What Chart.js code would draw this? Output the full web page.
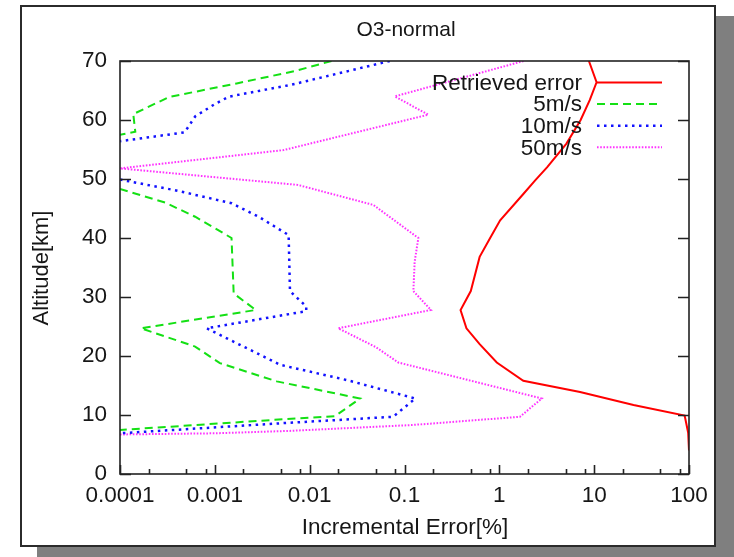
<!DOCTYPE html>
<html><head><meta charset="utf-8">
<script src="https://cdn.jsdelivr.net/npm/chart.js@4.4.1/dist/chart.umd.min.js"></script>
<style>html,body{margin:0;padding:0;background:#fff;overflow:hidden}#wrap{width:734px;height:557px;position:relative}</style>
</head><body><div id="wrap"><canvas id="c" width="734" height="557"></canvas></div>
<script>
// ---- tick definitions ----
const xTickValues = [0.0001, 0.001, 0.01, 0.1, 1, 10, 100];
const xTickLabels = ['0.0001', '0.001', '0.01', '0.1', '1', '10', '100'];
const xMinorFactors = [2, 5, 8];
const yTickValues = [0, 10, 20, 30, 40, 50, 60, 70];

// ---- series (altitude km, incremental error %); null = gap (values below 0.0001) ----
const retrievedAlt = [70, 66.4, 63.4, 60, 56, 52, 49.8, 47.5, 43, 40, 36.8, 31, 27.8, 24.7, 22, 18.9, 15.8, 13.9, 11.7, 9.9, 7, 4];
const retrievedErr = [8.8, 10.6, 9.0, 7.2, 5.1, 3.2, 2.4, 1.8, 1.02, 0.8, 0.62, 0.5, 0.39, 0.45, 0.62, 0.94, 1.79, 7.1, 26, 90, 98, 100];

const wind5Alt = [70, 68.3, 66.2, 63.9, 61, 58, 57.5, null, 48.3, 46, 43.6, 40, 30.6, 27.8, 24.7, 21.6, 18.8, 15.7, 12.8, 9.8, 9.3, 7.46];
const wind5Err = [0.017, 0.007, 0.0017, 0.00033, 0.000138, 0.000145, 0.0001, null, 0.0001, 0.0003, 0.00062, 0.0015, 0.00158, 0.0027, 0.000166, 0.00062, 0.00113, 0.0045, 0.034, 0.0185, 0.0055, 0.0001];

const wind10Alt = [70, 66, 63.95, 62.7, 60.6, 57.9, 56.4, null, 49.9, 48.1, 45.9, 43.6, 40.5, 31, 28.4, 27.6, 24.7, 18.5, 15.9, 12.8, 9.7, 8.6, 6.9];
const wind10Err = [0.07, 0.0065, 0.0014, 0.001, 0.00062, 0.00048, 0.0001, null, 0.0001, 0.00038, 0.0015, 0.0029, 0.006, 0.0062, 0.0092, 0.0092, 0.00082, 0.0049, 0.025, 0.13, 0.076, 0.005, 0.0001];

const wind50Alt = [70, 64, 60.9, 54.9, 51.8, 49, 45.6, 40, 36, 31, 27.8, 24.7, 21.5, 18.9, 12.8, 9.7, 8.3, 7.3, 6.9, 6.7];
const wind50Err = [1.8, 0.079, 0.178, 0.0053, 0.0001, 0.0075, 0.047, 0.14, 0.128, 0.124, 0.19, 0.02, 0.05, 0.086, 2.8, 1.65, 0.12, 0.006, 0.001, 0.0001];

const seriesNames = ['Retrieved error', '5m/s', '10m/s', '50m/s'];

function pts(alt, err) {
  return alt.map((a, i) => (a === null ? {x: null, y: null} : {x: err[i], y: a}));
}

const FONT = "'Liberation Sans', Arial, sans-serif";
const TXT = '#161616';

const framePlugin = {
  id: 'frame',
  beforeDraw(chart) {
    const ctx = chart.ctx;
    ctx.save();
    ctx.fillStyle = '#ffffff';
    ctx.fillRect(0, 0, 734, 557);
    ctx.fillStyle = '#7f7f7f';
    ctx.fillRect(37, 16, 697, 541);
    ctx.fillStyle = '#ffffff';
    ctx.fillRect(21, 6, 694, 540);
    ctx.strokeStyle = '#2b2b2b';
    ctx.lineWidth = 2;
    ctx.strokeRect(21, 6, 694, 540);
    ctx.restore();
  },
  afterDraw(chart) {
    const ctx = chart.ctx;
    const a = chart.chartArea;
    const xs = chart.scales.x, ys = chart.scales.y;
    ctx.save();
    // plot border
    ctx.strokeStyle = '#222';
    ctx.lineWidth = 1.6;
    ctx.strokeRect(a.left, a.top, a.right - a.left, a.bottom - a.top);
    // y ticks (inward, left and right)
    ctx.beginPath();
    yTickValues.forEach(v => {
      const py = Math.round(ys.getPixelForValue(v)) + 0.5;
      ctx.moveTo(a.left, py); ctx.lineTo(a.left + 11, py);
      ctx.moveTo(a.right, py); ctx.lineTo(a.right - 11, py);
    });
    // x major ticks
    xTickValues.forEach(v => {
      const px = Math.round(xs.getPixelForValue(v)) + 0.5;
      ctx.moveTo(px, a.bottom); ctx.lineTo(px, a.bottom - 9);
    });
    // x minor ticks
    xTickValues.slice(0, -1).forEach(v => {
      xMinorFactors.forEach(f => {
        const px = Math.round(xs.getPixelForValue(v * f)) + 0.5;
        ctx.moveTo(px, a.bottom); ctx.lineTo(px, a.bottom - 5);
      });
    });
    ctx.stroke();

    // titles
    ctx.fillStyle = TXT;
    ctx.textAlign = 'center';
    ctx.textBaseline = 'middle';
    ctx.font = '21px ' + FONT;
    ctx.fillText('O3-normal', 406, 30);
    ctx.font = '22.5px ' + FONT;
    ctx.fillText('Incremental Error[%]', 405, 528);
    ctx.save();
    ctx.translate(42, 268);
    ctx.rotate(-Math.PI / 2);
    ctx.font = '22px ' + FONT;
    ctx.fillText('Altitude[km]', 0, 0);
    ctx.restore();

    // legend (gnuplot style)
    const ly0 = 82.5, dy = 21.6;
    chart.data.datasets.forEach((ds, i) => {
      const y = ly0 + i * dy;
      ctx.font = '22.5px ' + FONT;
      ctx.textAlign = 'right';
      ctx.fillStyle = TXT;
      ctx.fillText(ds.label, 582, y + 1);
      ctx.beginPath();
      ctx.strokeStyle = ds.borderColor;
      ctx.lineWidth = ds.borderWidth;
      ctx.setLineDash(ds.borderDash || []);
      ctx.moveTo(597, y); ctx.lineTo(662, y);
      ctx.stroke();
      ctx.setLineDash([]);
    });
    ctx.restore();
  }
};

new Chart(document.getElementById('c'), {
  type: 'scatter',
  data: {
    datasets: [
      {label: seriesNames[0], data: pts(retrievedAlt, retrievedErr), borderColor: '#ff0000', borderWidth: 2, borderDash: []},
      {label: seriesNames[1], data: pts(wind5Alt, wind5Err), borderColor: '#14e014', borderWidth: 2, borderDash: [8, 5]},
      {label: seriesNames[2], data: pts(wind10Alt, wind10Err), borderColor: '#1212ff', borderWidth: 2.5, borderDash: [2.5, 4.5]},
      {label: seriesNames[3], data: pts(wind50Alt, wind50Err), borderColor: '#ff33ff', borderWidth: 2, borderDash: [1.6, 1.6]}
    ].map(d => Object.assign(d, {showLine: true, pointRadius: 0, pointHoverRadius: 0, fill: false, tension: 0, spanGaps: false}))
  },
  options: {
    responsive: false,
    animation: false,
    events: [],
    layout: {padding: {left: 0, top: 61, right: 45, bottom: 0}},
    plugins: {legend: {display: false}, title: {display: false}, tooltip: {enabled: false}},
    scales: {
      x: {
        type: 'logarithmic', min: 0.0001, max: 100,
        grid: {display: false, drawTicks: false},
        border: {display: false},
        afterBuildTicks: s => { s.ticks = xTickValues.map(v => ({value: v})); },
        afterFit: s => { s.height = 83; },
        ticks: {
          autoSkip: false, maxRotation: 0, minRotation: 0, padding: 8,
          color: TXT, font: {size: 22.5, family: FONT},
          callback: v => {
            const i = xTickValues.findIndex(t => Math.abs(Math.log10(t) - Math.log10(v)) < 1e-6);
            return i >= 0 ? xTickLabels[i] : '';
          }
        }
      },
      y: {
        type: 'linear', min: 0, max: 70,
        grid: {display: false, drawTicks: false},
        border: {display: false},
        afterBuildTicks: s => { s.ticks = yTickValues.map(v => ({value: v})); },
        afterFit: s => { s.width = 120; },
        ticks: {padding: 13, color: TXT, font: {size: 22.5, family: FONT}}
      }
    }
  },
  plugins: [framePlugin]
});
</script>
</body></html>
